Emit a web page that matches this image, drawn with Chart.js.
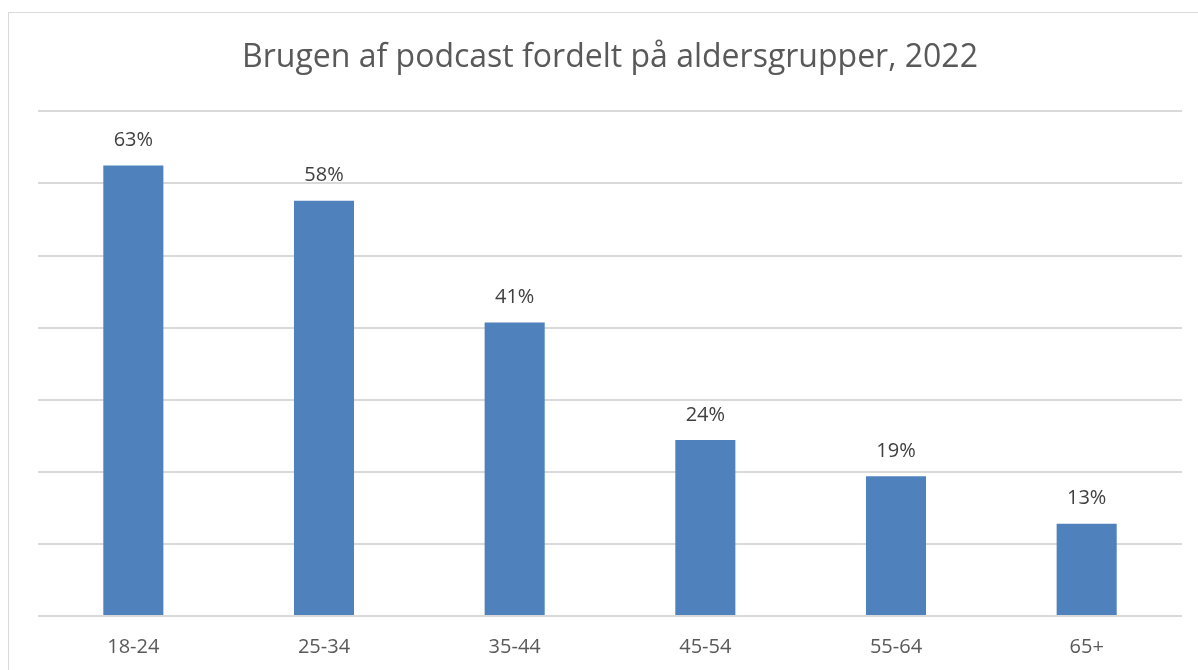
<!DOCTYPE html>
<html>
<head>
<meta charset="utf-8">
<script src="https://cdn.jsdelivr.net/npm/chart.js@4"></script>
<style>
  html, body { margin: 0; padding: 0; background: #fff; }
  #wrap { position: relative; width: 1198px; height: 670px; overflow: hidden; }
  #frame { position: absolute; left: 8px; top: 12px; width: 1300px; height: 800px; border: 1px solid #d9d9d9; }
  #c { position: absolute; left: 0; top: 0; }
</style>
</head>
<body>
<div id="wrap">
  <div id="frame"></div>
  <canvas id="c" width="1198" height="670"></canvas>
</div>
<script>
// Data
const titleText = 'Brugen af podcast fordelt på aldersgrupper, 2022';
const ageGroups = ['18-24', '25-34', '35-44', '45-54', '55-64', '65+'];
const usage = [62.5, 57.6, 40.7, 24.4, 19.4, 12.8];
const yMax = 70;
const yStep = 10;

const fontFamily = '"Open Sans", Lato, "Liberation Sans", sans-serif';

// Value labels above bars
const valueLabels = {
    id: 'valueLabels',
    afterDatasetsDraw(chart) {
        const ctx = chart.ctx;
        const meta = chart.getDatasetMeta(0);
        ctx.save();
        ctx.font = '20px ' + fontFamily;
        ctx.fillStyle = '#404040';
        ctx.textAlign = 'center';
        ctx.textBaseline = 'middle';
        meta.data.forEach(function(bar, i) {
            ctx.fillText(Math.round(usage[i]) + '%', bar.x, bar.y - 25);
        });
        ctx.restore();
    }
};

new Chart(document.getElementById('c'), {
    type: 'bar',
    data: {
        labels: ageGroups,
        datasets: [{
            data: usage,
            backgroundColor: '#4f81bd',
            borderWidth: 0,
            barPercentage: 0.315,
            categoryPercentage: 1
        }]
    },
    options: {
        responsive: false,
        animation: false,
        devicePixelRatio: 1,
        layout: {
            padding: { left: 38, right: 16, top: 0, bottom: -8 }
        },
        plugins: {
            legend: { display: false },
            tooltip: { enabled: false },
            title: {
                display: true,
                text: titleText,
                color: '#595959',
                font: { family: fontFamily, size: 32, weight: 'normal' },
                padding: { top: 39, bottom: 34 }
            }
        },
        scales: {
            x: {
                grid: { display: false, drawTicks: false },
                border: { display: false },
                ticks: {
                    color: '#595959',
                    font: { family: fontFamily, size: 20 },
                    padding: 19
                }
            },
            y: {
                min: 0,
                max: yMax,
                ticks: { display: false, stepSize: yStep },
                grid: { color: '#d9d9d9', lineWidth: 2, drawTicks: false },
                border: { display: false }
            }
        }
    },
    plugins: [valueLabels]
});
</script>
</body>
</html>
